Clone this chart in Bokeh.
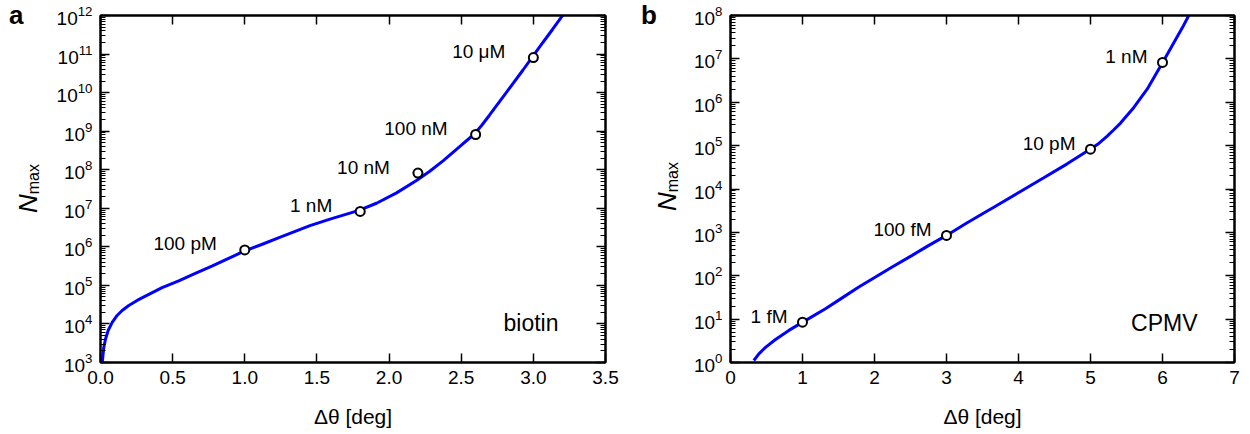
import numpy as np
from bokeh.plotting import figure
from bokeh.models import (FixedTicker, LinearAxis, LogAxis, Label, PrintfTickFormatter,
                          CustomJSTickFormatter, ColumnDataSource, Range1d, Div)
from bokeh.layouts import row
from bokeh.embed import file_html
from bokeh.resources import INLINE
from bokeh.core.properties import value

FONT = "Liberation Sans"
H = 434

# ---------------- panel a (biotin) ----------------
a_curve_x = [0.012, 0.016, 0.023, 0.035, 0.053, 0.081, 0.115, 0.150, 0.196, 0.254, 0.311,
             0.427, 0.542, 0.657, 0.772, 0.888, 0.991, 1.117, 1.233, 1.349, 1.452, 1.591,
             1.786, 1.913, 2.052, 2.190, 2.282, 2.374, 2.467, 2.589, 2.640, 2.697, 2.812,
             2.927, 2.990, 3.066, 3.135, 3.193, 3.25]
a_curve_logN = [3.00, 3.14, 3.40, 3.61, 3.83, 4.04, 4.22, 4.35, 4.48, 4.61, 4.72,
                4.94, 5.12, 5.31, 5.50, 5.70, 5.88, 6.06, 6.23, 6.40, 6.55, 6.72,
                6.94, 7.13, 7.40, 7.72, 7.96, 8.23, 8.53, 8.92, 9.14, 9.42, 10.00,
                10.58, 10.91, 11.30, 11.65, 11.95, 12.24]
a_pts_x = [1.0, 1.8, 2.2, 2.6, 3.0]
a_pts_N = [8.3e5, 8.3e6, 8.2e7, 8.2e8, 8.1e10]
a_pts_labels = ["100 pM", "1 nM", "10 nM", "100 nM", "10 \u03bcM"]
a_xticks = [0.0, 0.5, 1.0, 1.5, 2.0, 2.5, 3.0, 3.5]
a_yexp = [3, 4, 5, 6, 7, 8, 9, 10, 11, 12]
a_name = "biotin"
a_letter = "a"

# ---------------- panel b (CPMV) ----------------
b_curve_x = [0.324, 0.394, 0.486, 0.625, 0.810, 1.004, 1.319, 1.551, 1.782, 2.014, 2.245,
             2.523, 2.755, 3.000, 3.264, 3.542, 3.657, 4.004, 4.351, 4.676, 5.000, 5.100,
             5.232, 5.320, 5.417, 5.602, 5.787, 6.004, 6.157, 6.273, 6.365, 6.45]
b_curve_logN = [0.046, 0.20, 0.35, 0.53, 0.74, 0.93, 1.24, 1.49, 1.74, 1.97, 2.20,
                2.47, 2.70, 2.93, 3.20, 3.47, 3.58, 3.92, 4.26, 4.58, 4.92, 5.03,
                5.22, 5.36, 5.52, 5.88, 6.30, 6.92, 7.37, 7.71, 8.00, 8.28]
b_pts_x = [1.0, 3.0, 5.0, 6.0]
b_pts_N = [8.5, 8.5e2, 8.3e4, 8.3e6]
b_pts_labels = ["1 fM", "100 fM", "10 pM", "1 nM"]
b_xticks = [0, 1, 2, 3, 4, 5, 6, 7]
b_yexp = [0, 1, 2, 3, 4, 5, 6, 7, 8]
b_name = "CPMV"
b_letter = "b"


def style_axis(ax, show_labels=True, minor=True):
    ax.axis_line_color = "black"
    ax.axis_line_width = 2
    ax.major_tick_in = 9
    ax.major_tick_out = 0
    ax.major_tick_line_color = "black"
    ax.major_tick_line_width = 1.5
    ax.minor_tick_in = 5 if minor else 0
    ax.minor_tick_out = 0
    ax.minor_tick_line_color = "black"
    ax.minor_tick_line_width = 1
    ax.major_label_text_color = "black"
    ax.major_label_text_font = FONT
    ax.major_label_text_font_size = "19px"
    if show_labels:
        ax.major_label_standoff = 8
    else:
        ax.formatter = CustomJSTickFormatter(code="return '';")
        ax.major_label_standoff = 0


def make_text_strip(width, letter, letter_left, n_left, n_top):
    """Narrow HTML strip left of a panel: panel letter and rotated N_max label."""
    html = (
        f'<div style="position:relative;width:{width}px;height:{H}px;overflow:visible;'
        f'font-family:\'{FONT}\';color:black;">'
        f'<span style="position:absolute;left:{letter_left}px;top:0px;'
        f'font-size:26px;line-height:30px;font-weight:bold;">{letter}</span>'
        f'<span style="position:absolute;left:{n_left}px;top:{n_top}px;'
        f'transform:rotate(-90deg);transform-origin:left top;white-space:nowrap;'
        f'font-size:26px;line-height:26px;font-style:italic;">N'
        f'<span style="font-style:normal;font-size:16px;vertical-align:-2px;">max</span>'
        f'</span></div>'
    )
    return Div(text=html, width=width, height=H, margin=(0, 0, 0, 0))


def make_panel(width, cx, clog, px, pN, plabels, xticks, yexp, xfmt, name,
               border_left, border_right, label_dx, name_dx):
    yt = [10.0 ** e for e in yexp]
    ymin = [m * 10.0 ** e for e in yexp[:-1] for m in range(2, 10)]
    p = figure(width=width, height=H,
               x_range=Range1d(xticks[0], xticks[-1]),
               y_range=Range1d(yt[0], yt[-1]),
               y_axis_type="log", output_backend="svg", toolbar_location=None,
               min_border_left=border_left, min_border_right=border_right,
               min_border_top=15, min_border_bottom=72)
    p.xgrid.visible = False
    p.ygrid.visible = False
    p.outline_line_color = "black"
    p.outline_line_width = 2
    p.background_fill_color = "white"
    p.border_fill_color = "white"

    xticker = FixedTicker(ticks=xticks, minor_ticks=[])
    yticker = FixedTicker(ticks=yt, minor_ticks=ymin)

    p.xaxis.ticker = xticker
    p.xaxis.formatter = PrintfTickFormatter(format=xfmt)
    p.yaxis.ticker = yticker
    style_axis(p.xaxis[0], True, False)
    style_axis(p.yaxis[0], True, True)
    p.xaxis.axis_label = "\u0394\u03b8 [deg]"
    p.xaxis.axis_label_text_font = FONT
    p.xaxis.axis_label_text_font_size = "21px"
    p.xaxis.axis_label_text_font_style = "normal"
    p.xaxis.axis_label_text_color = "black"
    p.xaxis.axis_label_standoff = 18

    top = LinearAxis(ticker=xticker)
    style_axis(top, False, False)
    p.add_layout(top, "above")
    right = LogAxis(ticker=yticker)
    style_axis(right, False, True)
    p.add_layout(right, "right")

    src_c = ColumnDataSource(dict(x=cx, y=[10.0 ** v for v in clog]))
    p.line("x", "y", source=src_c, line_color="#0000ff", line_width=3)

    src_p = ColumnDataSource(dict(x=px, y=pN, t=plabels))
    p.scatter("x", "y", source=src_p, marker="circle", size=9, fill_color="white",
              line_color="black", line_width=2)
    p.text("x", "y", text="t", source=src_p, x_offset=label_dx, y_offset=-6,
           text_align="right", text_baseline="middle", text_font=value(FONT),
           text_font_size="19px", text_color="black")

    fw = width - border_left - border_right
    p.add_layout(Label(x=fw - name_dx, y=40,
                       x_units="screen", y_units="screen", text=name,
                       text_align="right", text_baseline="alphabetic",
                       text_font=FONT, text_font_size="23px", text_color="black"))
    return p


ta = make_text_strip(45, a_letter, 9, 15, 213)
pa = make_panel(580, a_curve_x, a_curve_logN, a_pts_x, a_pts_N, a_pts_labels, a_xticks,
                a_yexp, "%.1f", a_name, 55, 20, -28, 47)
tb = make_text_strip(60, b_letter, 16, 29, 211)
pb = make_panel(565, b_curve_x, b_curve_logN, b_pts_x, b_pts_N, b_pts_labels, b_xticks,
                b_yexp, "%d", b_name, 45, 16, -15, 37)

layout = row(ta, pa, tb, pb)
open("out.html", "w").write(file_html(layout, INLINE))
